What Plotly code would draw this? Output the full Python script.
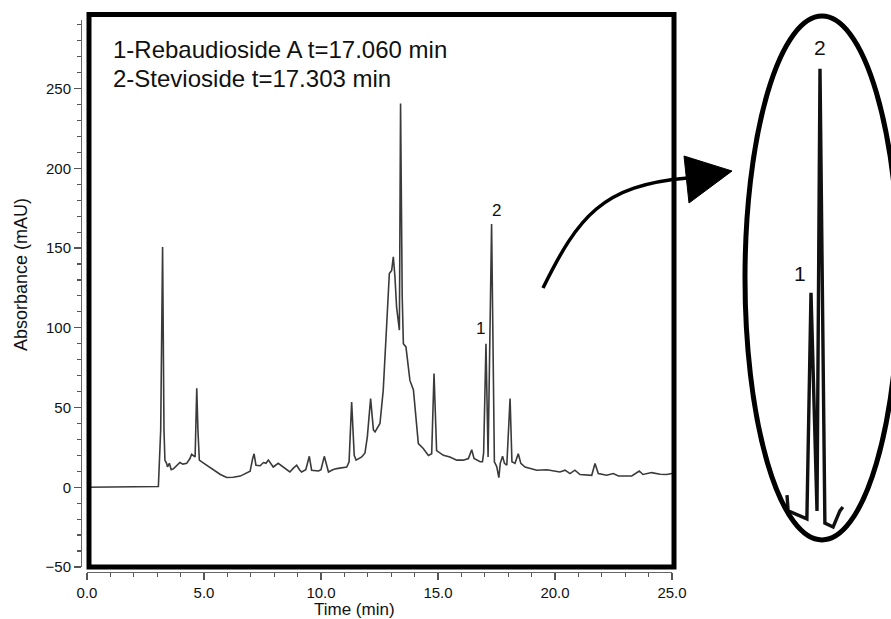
import plotly.graph_objects as go

# ---------------- data ----------------
time_min = [0.0, 3.0, 3.05, 3.15, 3.23, 3.29, 3.33, 3.40, 3.44, 3.52, 3.60, 3.69, 3.85, 3.97,
            4.10, 4.26, 4.40, 4.47, 4.62, 4.69, 4.74, 4.80, 4.95, 5.11, 5.30, 5.45, 5.54, 5.70,
            5.97, 6.25, 6.55, 6.80, 6.97, 7.08, 7.14, 7.22, 7.40, 7.54, 7.65, 7.75, 7.96, 8.17,
            8.38, 8.55, 8.67, 8.82, 8.96, 9.08, 9.17, 9.35, 9.50, 9.60, 9.89, 10.0, 10.14, 10.32,
            10.50, 10.67, 10.85, 11.10, 11.20, 11.31, 11.42, 11.50, 11.74, 11.88, 11.98, 12.12,
            12.24, 12.31, 12.52, 12.66, 12.81, 12.92, 13.02, 13.09, 13.16, 13.23, 13.35, 13.40,
            13.47, 13.52, 13.63, 13.80, 13.95, 14.16, 14.37, 14.59, 14.73, 14.83, 14.94, 15.23,
            15.51, 15.80, 16.08, 16.30, 16.44, 16.54, 16.80, 16.90, 16.95, 17.05, 17.14, 17.29,
            17.41, 17.51, 17.60, 17.66, 17.76, 17.84, 17.94, 18.08, 18.16, 18.29, 18.43, 18.54,
            18.72, 18.93, 19.22, 19.65, 20.08, 20.21, 20.43, 20.64, 20.85, 21.07, 21.57, 21.71,
            21.85, 22.21, 22.49, 22.71, 23.28, 23.60, 23.76, 24.13, 24.49, 24.77, 25.0]
absorbance = [0.0, 0.2, 0.5, 36, 150.7, 36, 17, 15, 12.8, 15, 11, 11.5, 13.5, 15.5,
              14.5, 15, 18, 20.7, 19, 62, 36, 17, 15.5, 13.8, 12, 10.5, 9.6, 8,
              6.1, 6.3, 7, 8.5, 10, 18, 21, 13.8, 13.5, 15.5, 15, 17, 12.7, 15,
              12.7, 11, 9.6, 12, 13.8, 11, 9.6, 11, 19.4, 10.7, 10.2, 11, 19.4, 9.6,
              11, 11.7, 12, 12.7, 16, 53.5, 20, 17, 19, 21.5, 31.6, 55.6,
              36, 34.7, 40, 60.9, 102.7, 134, 136, 144.5, 132, 113, 98.5, 240.7,
              120, 90, 88, 67, 61, 27.4, 24.3, 20, 21, 71.3, 23, 20,
              19, 17, 17, 18, 23.5, 18, 16, 16, 21.5, 90, 19, 165,
              16, 13, 6, 15, 19.5, 15, 13.8, 55.6, 16, 15, 21, 15,
              12.7, 11.7, 10.7, 11, 9.6, 9.6, 10.7, 8.6, 10.7, 8, 7.5, 14.9,
              8.6, 7.5, 8.6, 7.1, 7.1, 10.2, 8.0, 9.2, 8.2, 8, 8.6]

# magnified view of peaks 1 and 2 (inset)
inset_time = [16.42, 16.45, 16.95, 17.06, 17.22, 17.30, 17.43, 17.65, 17.83, 17.91]
inset_abs = [21.5, 16.2, 13.5, 89.6, 16.2, 165, 12.1, 10.8, 16.2, 17.5]

x_ticks = [0, 5, 10, 15, 20, 25]
y_ticks = [-50, 0, 50, 100, 150, 200, 250]
legend_lines = ["1-Rebaudioside A t=17.060 min", "2-Stevioside t=17.303 min"]
peak_labels = ["1", "2"]

# ---------------- layout helpers (pixel -> paper) ----------------
W, H = 891, 619
ML, MR, MT, MB = 81, 0, 20, 47
PW, PH = W - ML - MR, H - MT - MB


def px(x):
    return (x - ML) / PW


def py(y):
    return (H - MB - y) / PH


FONT = "Liberation Sans, Arial, Helvetica, sans-serif"

fig = go.Figure()
fig.add_trace(go.Scatter(x=time_min, y=absorbance, mode="lines",
                         line=dict(color="#3a3a3a", width=1.6),
                         hoverinfo="skip", showlegend=False))
fig.add_trace(go.Scatter(x=inset_time, y=inset_abs, mode="lines",
                         line=dict(color="#111111", width=3.4),
                         xaxis="x2", yaxis="y2",
                         hoverinfo="skip", showlegend=False))

shapes = [
    # thick frame around plot
    dict(type="rect", xref="paper", yref="paper",
         x0=px(89), x1=px(674), y0=py(567), y1=py(14.5),
         line=dict(color="black", width=5), layer="above"),
    # ellipse around inset
    dict(type="circle", xref="paper", yref="paper",
         x0=px(745), x1=px(899), y0=py(540), y1=py(16),
         line=dict(color="black", width=5)),
    # curved arrow
    dict(type="path", xref="paper", yref="paper",
         path=(f"M {px(543)},{py(288)} C {px(578)},{py(217)} {px(602)},{py(185)} "
               f"{px(688)},{py(178)}"),
         line=dict(color="black", width=3.5)),
    dict(type="path", xref="paper", yref="paper",
         path=f"M {px(684)},{py(156)} L {px(689)},{py(203)} L {px(732)},{py(171)} Z",
         fillcolor="black", line=dict(color="black", width=1)),
]

annotations = [
    dict(text=legend_lines[0], xref="paper", yref="paper", x=px(111), y=py(49),
         xanchor="left", yanchor="middle", showarrow=False,
         font=dict(family=FONT, size=24, color="#111")),
    dict(text=legend_lines[1], xref="paper", yref="paper", x=px(111), y=py(78),
         xanchor="left", yanchor="middle", showarrow=False,
         font=dict(family=FONT, size=24, color="#111")),
    dict(text="Time (min)", xref="paper", yref="paper", x=px(354), y=py(609),
         xanchor="center", yanchor="middle", showarrow=False,
         font=dict(family=FONT, size=17, color="#111")),
    dict(text="Absorbance (mAU)", xref="paper", yref="paper", x=px(21),
         y=py(275), xanchor="center", yanchor="middle", textangle=-90, showarrow=False,
         font=dict(family=FONT, size=18, color="#111")),
]
# peak labels in the main chromatogram
main_label_pos = [(480, 328), (496, 210)]
for lab, (lx, ly) in zip(peak_labels, main_label_pos):
    annotations.append(dict(text=lab, xref="paper", yref="paper", x=px(lx), y=py(ly),
                            xanchor="center", yanchor="middle", showarrow=False,
                            font=dict(family=FONT, size=17, color="#111")))
# peak labels in the inset
inset_label_pos = [(800, 273), (820, 47)]
for lab, (lx, ly) in zip(peak_labels, inset_label_pos):
    annotations.append(dict(text=lab, xref="paper", yref="paper", x=px(lx), y=py(ly),
                            xanchor="center", yanchor="middle", showarrow=False,
                            font=dict(family=FONT, size=21, color="#111")))

fig.update_layout(
    width=W, height=H,
    margin=dict(l=ML, r=MR, t=MT, b=MB, autoexpand=False),
    paper_bgcolor="white", plot_bgcolor="white",
    font=dict(family=FONT, size=15, color="#111"),
    showlegend=False,
    xaxis=dict(domain=[px(87), px(672)], range=[0, 25], anchor="free", position=0,
               tickvals=x_ticks, tickformat=".1f", ticks="outside", ticklen=7,
               tickcolor="#555", tickwidth=1.2, showline=True, linecolor="#666",
               linewidth=1.2, showgrid=False, zeroline=False,
               minor=dict(dtick=1, tick0=0, ticks="outside", ticklen=4,
                          tickcolor="#555", tickwidth=1.2),
               tickfont=dict(family=FONT, size=15, color="#111")),
    yaxis=dict(domain=[py(567), py(20)], range=[-50, 293], anchor="free", position=0,
               tickvals=y_ticks, ticks="outside", ticklen=7, tickcolor="#555",
               tickwidth=1.2, showline=True, linecolor="#666", linewidth=1.2,
               showgrid=False, zeroline=False,
               minor=dict(dtick=10, tick0=0, ticks="outside", ticklen=4,
                          tickcolor="#555", tickwidth=1.2),
               tickfont=dict(family=FONT, size=15, color="#111")),
    xaxis2=dict(domain=[px(760), px(880)], range=[15.70, 18.90], anchor="y2",
                visible=False),
    yaxis2=dict(domain=[py(559), py(40)], range=[0, 174.7], anchor="x2",
                visible=False),
    shapes=shapes,
    annotations=annotations,
)

fig.write_html(
    "out.html",
    config={"displayModeBar": False, "staticPlot": True},
    post_script="document.body.style.margin='0';document.body.style.overflow='hidden';",
)
